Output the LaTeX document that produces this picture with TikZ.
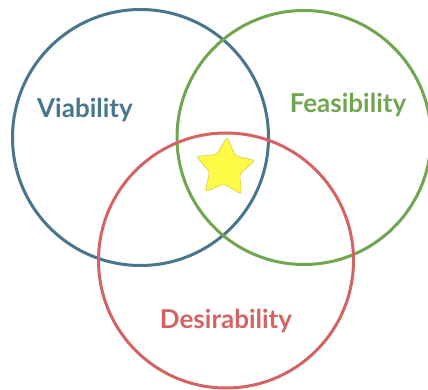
\documentclass[tikz,border=0pt]{standalone}
\usepackage{fontspec}
\setmainfont{Lato}
\usetikzlibrary{shapes.geometric}
\definecolor{viab}{RGB}{72,118,140}
\definecolor{feas}{RGB}{112,166,80}
\definecolor{desi}{RGB}{212,100,100}
\definecolor{starfill}{RGB}{255,250,70}
\definecolor{staredge}{RGB}{215,200,80}
\tikzset{ring/.style={line width=3pt},
 label/.style={font=\bfseries\fontsize{26}{31}\selectfont}}
\begin{document}
\begin{tikzpicture}[x=1pt,y=-1pt]
 \useasboundingbox (0,0) rectangle (428,390);

 \coordinate (v) at (140.5,137.5);
 \coordinate (f) at (304,137.5);
 \coordinate (d) at (226,260.5);
 \draw [ring, viab] (v) circle (128);
 \draw [ring, feas] (f) circle (127);
 \draw [ring, desi] (d) circle (127.5);

 \node [label, text=viab] (viability) at (85,110) {Viability};
 \node [label, text=feas] (feasibility) at (348,105) {Feasibility};
 \node [label, text=desi] (desirability) at (226,321) {Desirability};

 \node [star, star points=5, star point ratio=1.95, shape border rotate=-4,
 minimum size=62pt, inner sep=0pt, rounded corners=3pt,
 fill=starfill, draw=staredge, line width=0.6pt] (goal) at (225,168) {};
\end{tikzpicture}
\end{document}
